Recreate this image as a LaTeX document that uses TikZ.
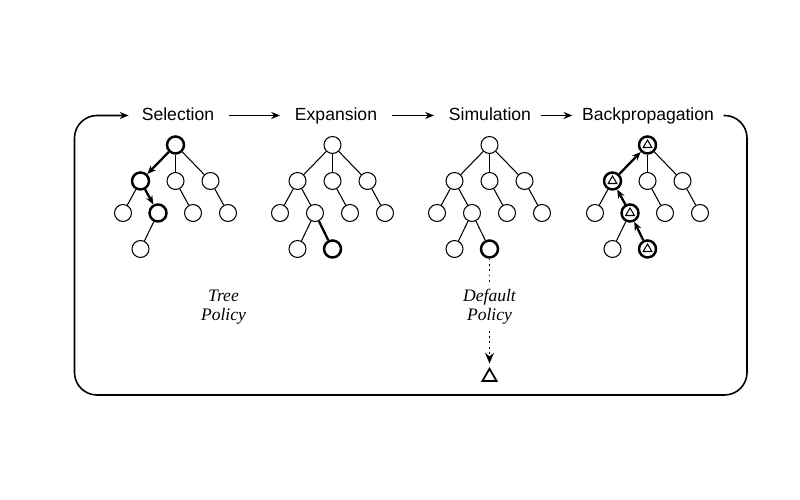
\documentclass[tikz,border=0pt]{standalone}
\usepackage{fontspec}
\setmainfont{Liberation Serif}
\setsansfont{Liberation Sans}
\usetikzlibrary{shapes.geometric,arrows.meta}

\tikzset{
	tnode/.style={circle,draw,line width=0.6pt,minimum size=0.34cm,inner sep=0pt},
	tbold/.style={tnode,line width=1.4pt},
	tri/.style={regular polygon,regular polygon sides=3,draw,inner sep=0pt},
	tback/.style={tbold,path picture={\node[tri,minimum size=0.2cm,line width=0.6pt] at (path picture bounding box.center) {};}},
	tedge/.style={line width=0.6pt},
	tpath/.style={line width=1.3pt,-{Stealth[length=5pt,width=4pt]}},
	title/.style={font=\sffamily\fontsize{10}{12}\selectfont,text height=7.5pt,text depth=2pt},
	policy/.style={font=\itshape\fontsize{10}{11}\selectfont,align=center},
	flow/.style={line width=0.9pt,-{Stealth[length=5pt,width=4pt]}},
	rollout/.style={line width=1pt,dash pattern=on 1pt off 2pt},
}

\begin{document}
\begin{tikzpicture}
	\useasboundingbox (0,0) rectangle (16,10);

	% titles
	\node[title] (sel) at (3.56,7.69) {Selection};
	\node[title] (exp) at (6.72,7.69) {Expansion};
	\node[title] (sim) at (9.8,7.69) {Simulation};
	\node[title] (bp) at (12.96,7.69) {Backpropagation};

	\draw[flow,shorten <=5pt,shorten >=5pt] (sel) -- (exp);
	\draw[flow,shorten <=5pt,shorten >=5pt] (exp) -- (sim);
	\draw[flow,shorten <=2pt,shorten >=2pt] (sim) -- (bp);

	\coordinate (loopR) at (14.94,2.1);
	\coordinate (loopL) at (1.49,2.1);
	\draw[flow,rounded corners=0.45cm,shorten >=4pt] ([xshift=2pt]bp.east) -| (loopR) -- (loopL) |- (sel.west);

	\begin{scope}[xshift=0.1mm]
	% selection
	\node[tbold] (s0) at (3.5,7.1) {};
	\node[tbold] (s1) at (2.8,6.38) {};
	\node[tnode] (s2) at (3.5,6.38) {};
	\node[tnode] (s3) at (4.2,6.38) {};
	\node[tnode] (s4) at (2.45,5.74) {};
	\node[tbold] (s5) at (3.15,5.74) {};
	\node[tnode] (s6) at (3.85,5.74) {};
	\node[tnode] (s7) at (4.55,5.74) {};
	\node[tnode] (s8) at (2.8,5.02) {};
	\foreach \a/\b in {0/2,0/3,1/4,2/6,3/7,5/8}
		\draw[tedge] (s\a) -- (s\b);
	\draw[tpath] (s0) -- (s1);
	\draw[tpath] (s1) -- (s5);

	% expansion
	\node[tnode] (x0) at (6.64,7.1) {};
	\node[tnode] (x1) at (5.94,6.38) {};
	\node[tnode] (x2) at (6.64,6.38) {};
	\node[tnode] (x3) at (7.34,6.38) {};
	\node[tnode] (x4) at (5.59,5.74) {};
	\node[tnode] (x5) at (6.29,5.74) {};
	\node[tnode] (x6) at (6.99,5.74) {};
	\node[tnode] (x7) at (7.69,5.74) {};
	\node[tnode] (x8) at (5.94,5.02) {};
	\node[tbold] (x9) at (6.64,5.02) {};
	\foreach \a/\b in {0/1,0/2,0/3,1/4,1/5,2/6,3/7,5/8}
		\draw[tedge] (x\a) -- (x\b);
	\draw[line width=1.3pt] (x5) -- (x9);

	% simulation
	\node[tnode] (m0) at (9.78,7.1) {};
	\node[tnode] (m1) at (9.08,6.38) {};
	\node[tnode] (m2) at (9.78,6.38) {};
	\node[tnode] (m3) at (10.48,6.38) {};
	\node[tnode] (m4) at (8.73,5.74) {};
	\node[tnode] (m5) at (9.43,5.74) {};
	\node[tnode] (m6) at (10.13,5.74) {};
	\node[tnode] (m7) at (10.83,5.74) {};
	\node[tnode] (m8) at (9.08,5.02) {};
	\node[tbold] (m9) at (9.78,5.02) {};
	\foreach \a/\b in {0/1,0/2,0/3,1/4,1/5,2/6,3/7,5/8,5/9}
		\draw[tedge] (m\a) -- (m\b);

	% backpropagation
	\node[tback] (b0) at (12.94,7.1) {};
	\node[tback] (b1) at (12.24,6.38) {};
	\node[tnode] (b2) at (12.94,6.38) {};
	\node[tnode] (b3) at (13.64,6.38) {};
	\node[tnode] (b4) at (11.89,5.74) {};
	\node[tback] (b5) at (12.59,5.74) {};
	\node[tnode] (b6) at (13.29,5.74) {};
	\node[tnode] (b7) at (13.99,5.74) {};
	\node[tnode] (b8) at (12.24,5.02) {};
	\node[tback] (b9) at (12.94,5.02) {};
	\foreach \a/\b in {0/2,0/3,1/4,2/6,3/7,5/8}
		\draw[tedge] (b\a) -- (b\b);
	\draw[tpath] (b9) -- (b5);
	\draw[tpath] (b5) -- (b1);
	\draw[tpath] (b1) -- (b0);

	% policies
	\node[policy] (tp) at (4.46,3.86) {Tree\\Policy};
	\node[policy] (dp) at (9.78,3.86) {Default\\Policy};
	\node[tri,minimum size=0.33cm,line width=1pt] (term) at (9.78,2.46) {};
	\draw[rollout] (m9) -- (dp);
	\draw[rollout,-{Stealth[length=6pt,width=5pt]},shorten >=2pt] (dp) -- (term);
	\end{scope}
\end{tikzpicture}
\end{document}
